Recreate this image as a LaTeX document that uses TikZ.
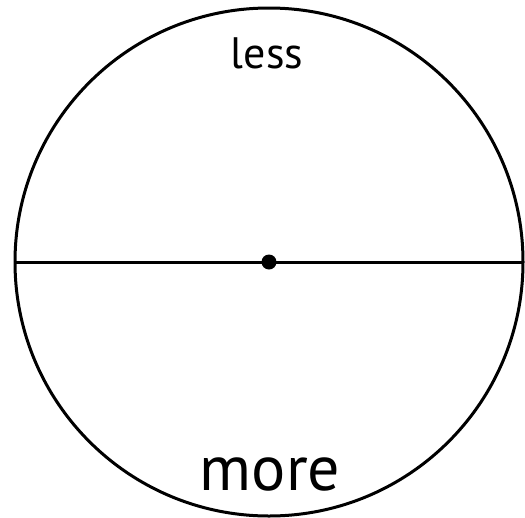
\documentclass[tikz,border=0pt]{standalone}
\usepackage{fontspec}
\setmainfont{PT Sans}
\usepackage{tikz}

\begin{document}
\begin{tikzpicture}[x=1pt,y=1pt]
\useasboundingbox (0,0) rectangle (525,-517);
% outline and diameter:
\coordinate (centre) at (269,-262);
\path[draw=black,line width=3pt] (centre) circle (254);
\coordinate (west) at (15,-262);
\coordinate (east) at (523,-262);
\draw[black,line width=3pt] (west) -- (east);
\path[fill=black] (centre) circle (7.5);
% labels:
\node[inner sep=0pt,anchor=base] (less) at (267,-68) {\fontsize{44}{53}\selectfont less};
\node[inner sep=0pt,anchor=base] (more) at (270,-490) {\fontsize{64}{77}\selectfont more};
\end{tikzpicture}
\end{document}
